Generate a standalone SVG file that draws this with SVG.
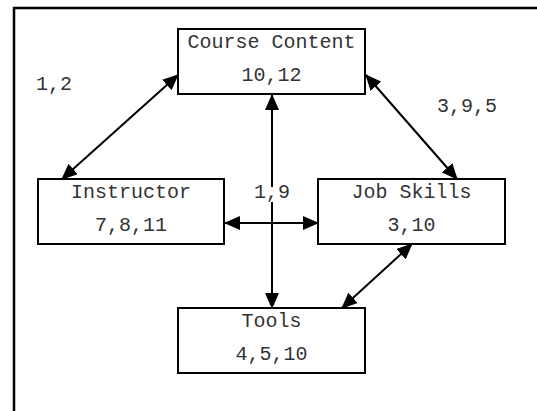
<svg xmlns="http://www.w3.org/2000/svg" width="537" height="411" viewBox="0 0 537 411">
<defs>
<marker id="ah" markerWidth="16" markerHeight="14" refX="15" refY="7" orient="auto-start-reverse" markerUnits="userSpaceOnUse">
<path d="M0,0 L16,7 L0,14 z" fill="#000"/>
</marker>
<style>
.box{fill:#fff;stroke:#000;stroke-width:2}
.t{font-family:"Liberation Mono","Courier New",monospace;font-size:20px;fill:#333;text-anchor:middle}
.lbl{font-family:"Liberation Mono","Courier New",monospace;font-size:20px;fill:#333}
.c{stroke:#000;stroke-width:2;fill:none}
</style>
</defs>
<rect width="537" height="411" fill="#fff"/>
<path d="M14,420 L14,8 L545,8" fill="none" stroke="#000" stroke-width="2.5"/>
<g id="connectors">
<line class="c" x1="272" y1="308" x2="272" y2="95" marker-start="url(#ah)" marker-end="url(#ah)"/>
<line class="c" x1="225" y1="223" x2="318" y2="223" marker-start="url(#ah)" marker-end="url(#ah)"/>
<line class="c" x1="62" y1="179" x2="178" y2="75" marker-start="url(#ah)" marker-end="url(#ah)"/>
<line class="c" x1="366" y1="75" x2="457" y2="179" marker-start="url(#ah)" marker-end="url(#ah)"/>
<line class="c" x1="412" y1="244" x2="342" y2="308" marker-start="url(#ah)" marker-end="url(#ah)"/>
</g>
<g id="labels">
<text class="lbl" x="36" y="90">1,2</text>
<text class="lbl" x="437" y="112">3,9,5</text>
<rect x="252" y="187" width="36" height="15" fill="#fff"/>
<text class="t" x="272" y="198">1,9</text>
</g>
<g id="course-content">
<rect class="box" x="178" y="29" width="187" height="65"/>
<text class="t" x="271.5" y="48">Course Content</text>
<text class="t" x="271.5" y="81">10,12</text>
</g>
<g id="instructor">
<rect class="box" x="38" y="179" width="186" height="65"/>
<text class="t" x="131" y="198">Instructor</text>
<text class="t" x="131" y="231">7,8,11</text>
</g>
<g id="job-skills">
<rect class="box" x="318" y="179" width="187" height="65"/>
<text class="t" x="411.5" y="198">Job Skills</text>
<text class="t" x="411.5" y="231">3,10</text>
</g>
<g id="tools">
<rect class="box" x="178" y="308" width="187" height="65"/>
<text class="t" x="271.5" y="327">Tools</text>
<text class="t" x="271.5" y="360">4,5,10</text>
</g>
</svg>
